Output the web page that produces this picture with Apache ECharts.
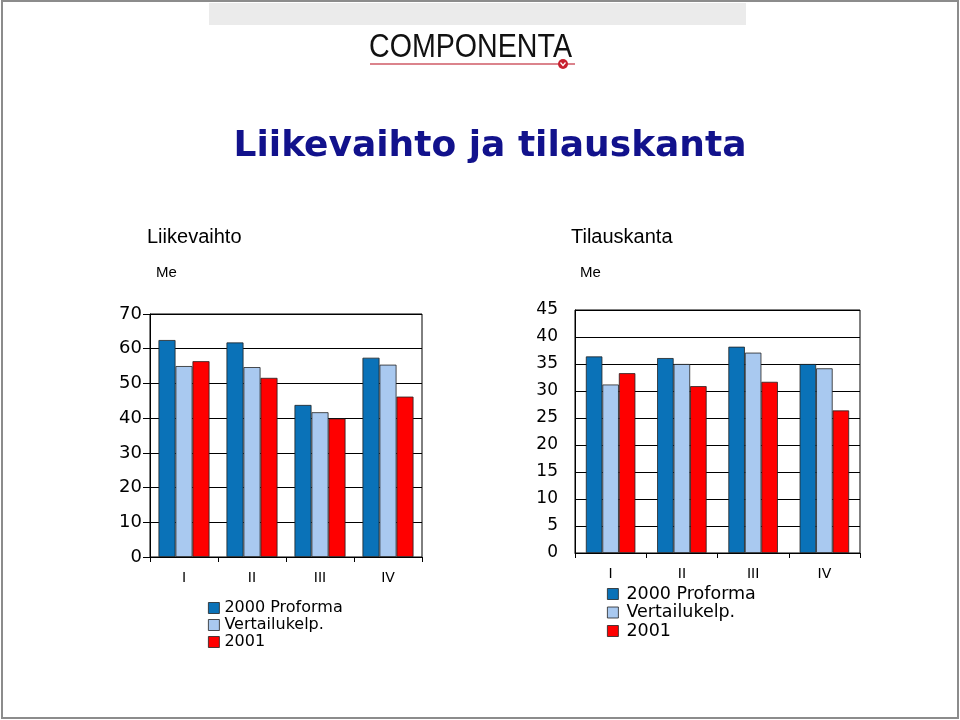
<!DOCTYPE html>
<html>
<head>
<meta charset="utf-8">
<script src="https://cdn.jsdelivr.net/npm/echarts@6/dist/echarts.min.js"></script>
<style>html,body{margin:0;padding:0;background:#fff}#c{width:960px;height:720px}</style>
</head>
<body>
<div id="c"></div>
<script>
// ---- data ----
const categories = ['I', 'II', 'III', 'IV'];
const seriesNames = ['2000 Proforma', 'Vertailukelp.', '2001'];
// Liikevaihto (Me)
const salesProforma2000 = [62.5, 61.8, 43.8, 57.4];
const salesComparable = [55.0, 54.7, 41.7, 55.4];
const sales2001 = [56.4, 51.6, 39.9, 46.2];
// Tilauskanta (Me)
const orderProforma2000 = [36.4, 36.1, 38.2, 35.0];
const orderComparable = [31.2, 35.0, 37.1, 34.2];
const order2001 = [33.3, 30.9, 31.7, 26.4];

const colors = ['#0a72b8', '#a9c9f0', '#ff0000'];
const FONT = '"DejaVu Sans", sans-serif';

const chart = echarts.init(document.getElementById('c'), null, {renderer: 'canvas'});

function yAxisCfg(max, interval, gridIndex, fs, tickLen, margin) {
  return {
    type: 'value', gridIndex: gridIndex, min: 0, max: max, interval: interval,
    axisLine: {show: true, lineStyle: {color: '#000', width: 1}},
    axisTick: {show: tickLen > 0, length: tickLen, lineStyle: {color: '#000'}},
    splitLine: {show: true, lineStyle: {color: '#000', width: 1}},
    axisLabel: {color: '#000', fontFamily: FONT, fontSize: fs, margin: margin}
  };
}
function xAxisCfg(gridIndex, margin) {
  return {
    type: 'category', gridIndex: gridIndex, data: categories,
    axisLine: {show: true, lineStyle: {color: '#000', width: 1}},
    axisTick: {show: true, length: 5, lineStyle: {color: '#000'}},
    axisLabel: {color: '#000', fontFamily: FONT, fontSize: 14, margin: margin}
  };
}
function barSeries(name, data, idx, axisIndex, width) {
  return {
    type: 'bar', name: name, data: data, xAxisIndex: axisIndex, yAxisIndex: axisIndex,
    barWidth: width, barGap: '0%',
    itemStyle: {color: colors[idx], borderColor: '#222', borderWidth: 0.8},
    emphasis: {disabled: true}, animation: false
  };
}
function legendItem(name, left, top, fs, textPad) {
  return {
    data: [name], orient: 'vertical', left: left, top: top,
    itemWidth: 11, itemHeight: 11, itemGap: 0, padding: 0, icon: 'rect',
    selectedMode: false,
    itemStyle: {borderWidth: 0.8, borderColor: '#222'},
    textStyle: {color: '#000', fontFamily: FONT, fontSize: fs, padding: [0, 0, 0, textPad]}
  };
}

const option = {
  backgroundColor: '#fff',
  animation: false,
  grid: [
    {left: 150, top: 314, width: 272, height: 243, show: true, borderColor: '#000', borderWidth: 1, backgroundColor: 'transparent'},
    {left: 575, top: 310, width: 285, height: 243, show: true, borderColor: '#000', borderWidth: 1, backgroundColor: 'transparent'}
  ],
  xAxis: [xAxisCfg(0, 14), xAxisCfg(1, 14)],
  yAxis: [yAxisCfg(70, 10, 0, 18, 7, 8), yAxisCfg(45, 5, 1, 17, 0, 17)],
  legend: [
    legendItem(seriesNames[0], 208, 600, 16, 0),
    legendItem(seriesNames[1], 208, 617, 16, 0),
    legendItem(seriesNames[2], 208, 634, 16, 0),
    legendItem(seriesNames[0], 607, 585, 17.5, 3),
    legendItem(seriesNames[1], 607, 603.5, 17.5, 3),
    legendItem(seriesNames[2], 607, 622, 17.5, 3)
  ],
  series: [
    barSeries(seriesNames[0], salesProforma2000, 0, 0, 17),
    barSeries(seriesNames[1], salesComparable, 1, 0, 17),
    barSeries(seriesNames[2], sales2001, 2, 0, 17),
    barSeries(seriesNames[0], orderProforma2000, 0, 1, 16.5),
    barSeries(seriesNames[1], orderComparable, 1, 1, 16.5),
    barSeries(seriesNames[2], order2001, 2, 1, 16.5)
  ],
  graphic: [
    {type: 'rect', shape: {x: 2, y: 1, width: 956, height: 717}, style: {fill: 'none', stroke: '#8c8c8c', lineWidth: 2}, silent: true, z: 100},
    {type: 'rect', shape: {x: 209, y: 3, width: 537, height: 22}, style: {fill: '#ebebeb'}, silent: true},
    {type: 'text', x: 470.5, y: 48, scaleX: 0.867,
      style: {text: 'COMPONENTA', x: 0, y: 0, textAlign: 'center', textVerticalAlign: 'middle', fill: '#111', font: '33px "Liberation Sans", Arial, sans-serif'}, silent: true},
    {type: 'line', shape: {x1: 370, y1: 64, x2: 575, y2: 64}, style: {stroke: '#cf5a66', lineWidth: 1.5}, silent: true},
    {type: 'circle', shape: {cx: 563, cy: 64, r: 5}, style: {fill: '#c8202f'}, silent: true},
    {type: 'polyline', shape: {points: [[560.5, 62.5], [563, 65.5], [565.5, 62.5]]}, style: {stroke: '#fff', lineWidth: 1.2, fill: 'none'}, silent: true},
    {type: 'text', x: 490, y: 147,
      style: {text: 'Liikevaihto ja tilauskanta', textAlign: 'center', textVerticalAlign: 'middle', fill: '#12128c', font: 'bold 36px "DejaVu Sans", sans-serif'}, silent: true},
    {type: 'text', x: 147, y: 237,
      style: {text: 'Liikevaihto', textAlign: 'left', textVerticalAlign: 'middle', fill: '#000', font: '20px "Liberation Sans", Arial, sans-serif'}, silent: true},
    {type: 'text', x: 571, y: 237,
      style: {text: 'Tilauskanta', textAlign: 'left', textVerticalAlign: 'middle', fill: '#000', font: '20px "Liberation Sans", Arial, sans-serif'}, silent: true},
    {type: 'text', x: 156, y: 273,
      style: {text: 'Me', textAlign: 'left', textVerticalAlign: 'middle', fill: '#000', font: '15px "Liberation Sans", Arial, sans-serif'}, silent: true},
    {type: 'text', x: 580, y: 273,
      style: {text: 'Me', textAlign: 'left', textVerticalAlign: 'middle', fill: '#000', font: '15px "Liberation Sans", Arial, sans-serif'}, silent: true}
  ]
};
chart.setOption(option);
</script>
</body>
</html>
